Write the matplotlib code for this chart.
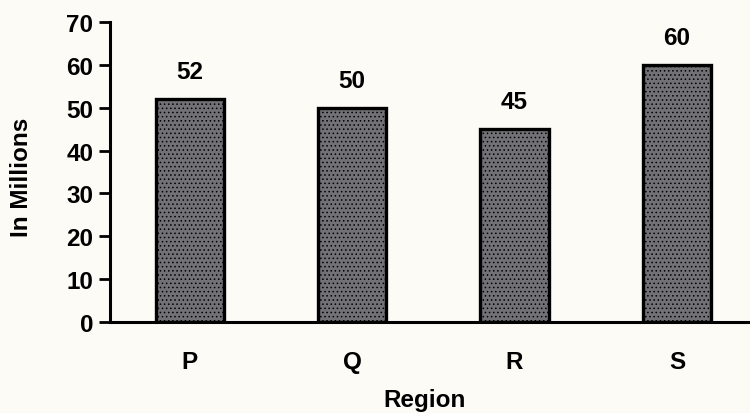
import matplotlib
matplotlib.use("Agg")
import matplotlib.pyplot as plt
import numpy as np

# -----------------------------
# Data
# -----------------------------
regions = ["P", "Q", "R", "S"]
values = [52, 50, 45, 60]
y_ticks = [0, 10, 20, 30, 40, 50, 60, 70]

BG = "#fcfbf6"
BAR = "#727276"
FS = 17.5

plt.rcParams["font.family"] = ["Liberation Sans", "DejaVu Sans"]
plt.rcParams["font.weight"] = "bold"
plt.rcParams["hatch.color"] = "#9c9ca0"
plt.rcParams["hatch.linewidth"] = 0.6


def main() -> int:
    fig = plt.figure(figsize=(7.5, 4.14), dpi=100, facecolor=BG)
    ax = fig.add_axes([0.1467, 0.2198, 0.8533, 0.7246], facecolor=BG)

    x = np.arange(len(regions))
    bars = ax.bar(x, values, width=0.42, color=BAR, edgecolor="black",
                  linewidth=2.4, hatch="....", zorder=3)

    # value labels above bars
    for b, v in zip(bars, values):
        ax.text(b.get_x() + b.get_width() / 2, v + 4.9, str(v),
                ha="center", va="baseline", fontsize=FS)

    ax.set_xlim(-0.49, 3.45)
    ax.set_ylim(0, 70)
    ax.set_yticks(y_ticks)
    ax.set_xticks(x)
    ax.set_xticklabels(regions, fontsize=FS)
    ax.tick_params(axis="y", labelsize=FS, length=8, width=2, direction="out", pad=4)
    ax.tick_params(axis="x", length=0, pad=20)

    for s in ("top", "right"):
        ax.spines[s].set_visible(False)
    for s in ("left", "bottom"):
        ax.spines[s].set_linewidth(2.2)

    # axis titles placed in figure pixels
    fig.text(425 / 750, 1 - 401 / 414, "Region", fontsize=FS,
             ha="center", va="center")
    fig.text(22 / 750, 1 - 177 / 414, "In Millions", fontsize=FS,
             ha="center", va="center", rotation=90)

    fig.savefig("out.png", dpi=100, facecolor=BG)
    plt.close(fig)
    return 0


if __name__ == "__main__":
    raise SystemExit(main())
